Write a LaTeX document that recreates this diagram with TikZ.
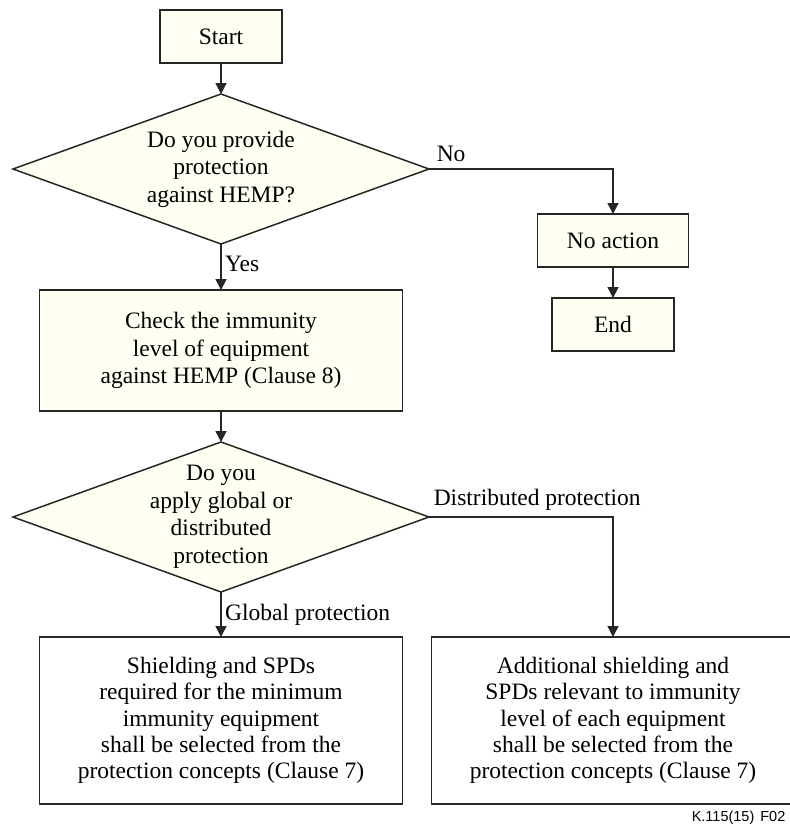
\documentclass[tikz,border=0pt]{standalone}
\usepackage{fontspec}
\setmainfont{Liberation Serif}
\newfontfamily\tagfont{Liberation Sans}
\usetikzlibrary{arrows.meta,positioning,shapes.geometric}
\definecolor{cream}{HTML}{FFFFF2}

\begin{document}
\begin{tikzpicture}[x=1pt, y=1pt, >={Triangle[length=11pt,width=11pt]},
  line width=1.5pt, draw=black!85, font=\fontsize{23.5}{27.5}\selectfont]
\tikzstyle{blk}=[draw, fill=cream, outer sep=0pt, align=center]
\tikzstyle{dec}=[draw, fill=cream, shape=diamond, aspect=2.77,
                 inner xsep=0pt, inner ysep=-12pt, outer sep=0pt,
                 minimum width=416pt, minimum height=150pt, align=center]
\tikzstyle{res}=[draw, fill=white, outer sep=0pt, minimum width=363pt,
                 minimum height=167pt, align=center,
                 font=\fontsize{23.5}{26.3}\selectfont]
\useasboundingbox (0,0) rectangle (790,-828);

\node[blk, minimum width=122pt, minimum height=53pt] (start) at (221,-36.5) {Start};
\node[dec, below=31pt of start] (hemp) {Do you provide\\ protection\\ against HEMP?};
\node[blk, below=46pt of hemp, minimum width=363pt, minimum height=121pt] (check)
  {Check the immunity\\ level of equipment\\ against HEMP (Clause 8)};
\node[dec, below=31pt of check] (mode)
  {Do you\\ apply global or\\ distributed\\ protection};
\node[res, below=45pt of mode] (glob)
  {Shielding and SPDs\\ required for the minimum\\ immunity equipment\\
   shall be selected from the\\ protection concepts (Clause 7)};
\node[res, right=29pt of glob] (distr)
  {Additional shielding and\\ SPDs relevant to immunity\\ level of each equipment\\
   shall be selected from the\\ protection concepts (Clause 7)};
\coordinate (noaxis) at (0,-240.5);
\node[blk, minimum width=151pt, minimum height=53pt] (noact) at (distr.north |- noaxis) {No action};
\node[blk, below=31pt of noact, minimum width=122pt, minimum height=53pt] (stop) {End};
\node[font=\tagfont\fontsize{14.5}{17}\selectfont, anchor=base west, inner sep=0pt] (tag)
  at (691,-821) {K.115(15)\hspace{6pt}F02};

\draw[->] (start) -- (hemp);
\draw[->] (hemp) -- (check)
  node[midway, right, yshift=3pt] {Yes};
\draw[->] (hemp.east) -| (noact.north)
  node[pos=0, above right, inner sep=7pt] {No};
\draw[->] (noact) -- (stop);
\draw[->] (check) -- (mode);
\draw[->] (mode) -- (glob)
  node[midway, right] {Global protection};
\draw[->] (mode.east) -| (distr.north)
  node[pos=0, above right, inner xsep=4pt, inner ysep=6pt] {Distributed protection};

\end{tikzpicture}
\end{document}
